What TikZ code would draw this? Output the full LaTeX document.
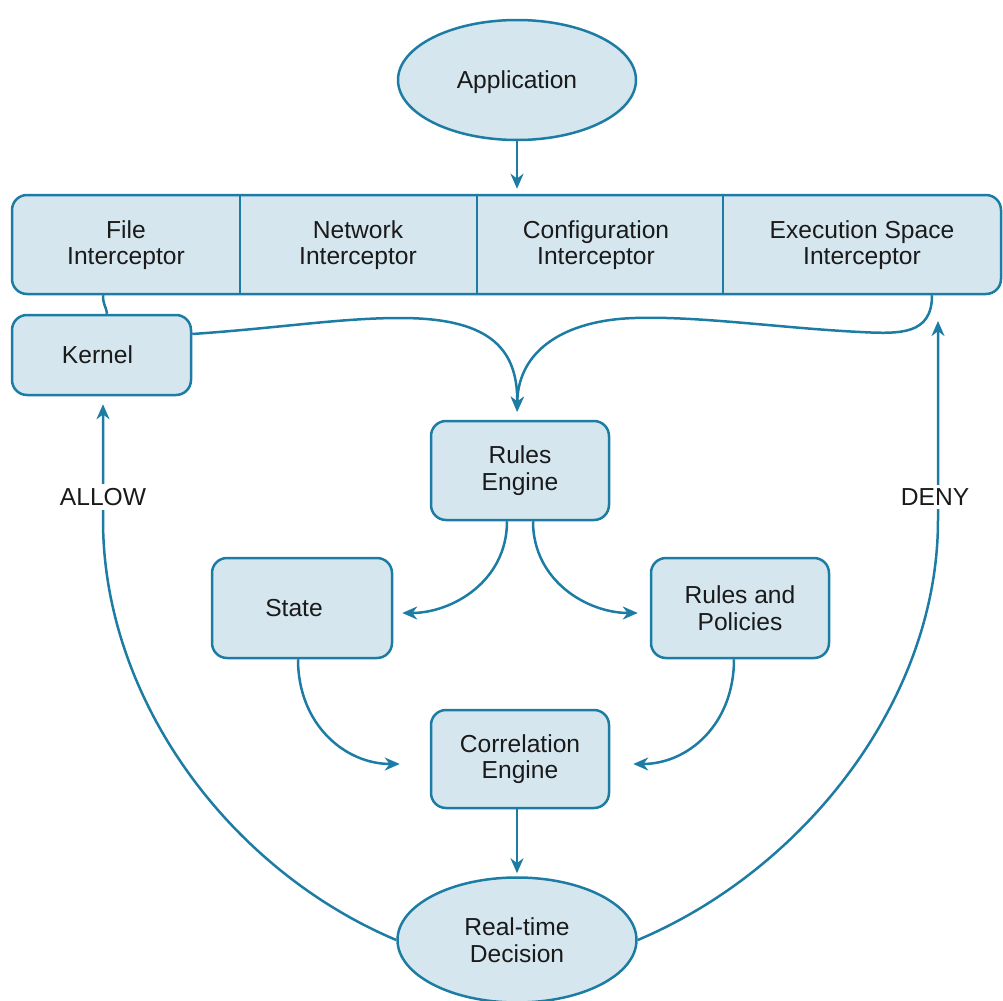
\documentclass[tikz,border=0pt]{standalone}
\usepackage{fontspec}
\setmainfont{Liberation Sans}
\usetikzlibrary{arrows.meta,shapes.geometric,calc}
\definecolor{cblue}{HTML}{1C7CA3}
\definecolor{cfill}{HTML}{D5E6EF}
\definecolor{ctext}{HTML}{1A1A1A}
\begin{document}
\begin{tikzpicture}[x=0.5pt,y=-0.5pt,
  font=\fontsize{12.3}{13.3}\selectfont, text=ctext,
  box/.style={draw=cblue,fill=cfill,line width=1.25pt,rounded corners=7.5pt,align=center,inner sep=0pt},
  oval/.style={ellipse,draw=cblue,fill=cfill,line width=1.25pt,align=center,inner sep=0pt},
  txt/.style={align=center,inner sep=0pt},
  conn/.style={draw=cblue,line width=1.25pt},
  arr/.style={conn,-{Stealth[length=7.5pt,width=6.5pt,inset=2.4pt]}},
  lbl/.style={fill=white,inner sep=2pt}]
\useasboundingbox (0,0) rectangle (1003,1001);

% nodes
\node[oval,minimum width=119pt,minimum height=60pt,text depth=0pt] (app) at (517,80) {Application};
\node[box,minimum width=494.5pt,minimum height=49.5pt] (bar) at (506.5,244.5) {};
\draw[conn] (240,195) -- (240,294);
\draw[conn] (477,195) -- (477,294);
\draw[conn] (723,195) -- (723,294);
\node[txt] (fi) at (126,245) {File\\Interceptor};
\node[txt] (ni) at (358,245) {Network\\Interceptor};
\node[txt] (ci) at (596,245) {Configuration\\Interceptor};
\node[txt] (ei) at (862,245) {Execution Space\\Interceptor};

\node[box,minimum width=89.5pt,minimum height=40pt] (kn) at (101.5,355) {\hspace*{-4pt}Kernel};
\node[box,minimum width=89pt,minimum height=49.5pt] (re) at (520,470.5) {Rules\\Engine};
\node[box,minimum width=90pt,minimum height=50pt] (st) at (302,608) {\hspace*{-8pt}State};
\node[box,minimum width=89pt,minimum height=50pt] (rp) at (740,608) {Rules and\\Policies};
\node[box,minimum width=89pt,minimum height=49pt] (ce) at (520,759) {Correlation\\Engine};
\node[oval,minimum width=119.5pt,minimum height=62.5pt] (dec) at (517,940) {Real-time\\Decision};

\coordinate (denyend) at (938,321);

% connectors
\draw[arr,shorten >=2.5pt] (app.south) -- (bar.north -| app.south);
\draw[conn] ($(bar.south -| kn.north)+(1.5,0)$) .. controls +(0,10) and +(-1,-8) .. ($(kn.north)+(5.5,0)$);
\draw[arr,shorten >=4pt] ($(kn.east)+(0,-21)$) .. controls (280,328) and (340,318) .. (400,318)
   .. controls (485,318) and (518,345) .. (re.north -| dec.north);
\draw[arr,shorten >=4pt] ($(bar.south)+(425.5,0)$) .. controls (932,335) and (900,334) .. (860,332)
   .. controls (780,328) and (700,316) .. (635,318)
   .. controls (565,320) and (518,350) .. (re.north -| dec.north);
\draw[arr] ($(re.south)+(-13,0)$) .. controls +(0,60) and +(50,0) .. ($(st.east)+(9,5)$);
\draw[arr] ($(re.south)+(13,0)$) .. controls +(0,60) and +(-50,0) .. ($(rp.west)+(-12,5)$);
\draw[arr] ($(st.south)+(-4,0)$) .. controls +(0,65) and +(-55,0) .. ($(ce.west)+(-30,5)$);
\draw[arr] ($(rp.south)+(-6,0)$) .. controls +(0,65) and +(55,0) .. ($(ce.east)+(23,5)$);
\draw[arr,shorten >=1.5pt] (ce.south -| dec.north) -- (dec.north);
\draw[arr,shorten >=4pt] (dec.west) .. controls (230,870) and (103,700) .. (103,520) -- ($(kn.south)+(1.5,0)$);
\draw[arr] (dec.east) .. controls (804,870) and (938,700) .. (938,520) -- (denyend);

\node[lbl] (allow) at (103,497) {ALLOW};
\node[lbl] (deny) at (935,497) {DENY};
\end{tikzpicture}
\end{document}
